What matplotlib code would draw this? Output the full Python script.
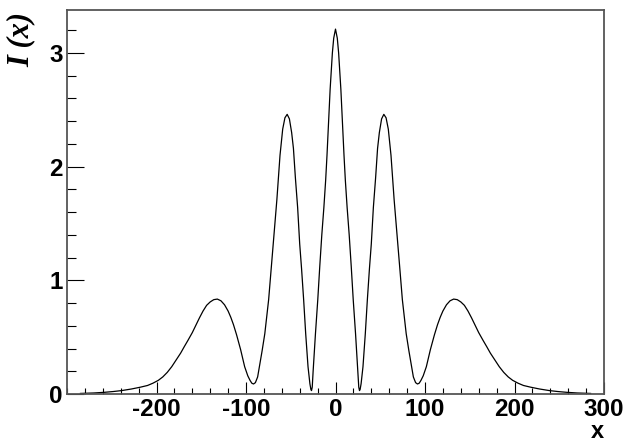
import matplotlib
matplotlib.use("Agg")
import matplotlib.pyplot as plt
from matplotlib.ticker import MultipleLocator, FixedLocator

# values (x, I(x))
x_vals = [-285, -270, -258, -248, -239, -228, -218, -210, -204, -198,
          -193, -188, -183, -178, -173, -169, -165, -160, -156, -152,
          -148, -144, -140, -136, -132, -128, -124, -120, -117, -114,
          -110.5, -106, -101.5, -98, -95.5, -93.5, -91.6, -89.5, -87, -85,
          -82, -79, -74.7, -71.7, -68.7, -65.5, -62, -59, -56.5, -54,
          -51.5, -49, -47, -44.8, -42.3, -40, -37.9, -35.6, -33.3, -30.7,
          -28.6, -27.5, -26.8, -26, -25, -22.4, -19.8, -17.6, -15.3, -13,
          -11, -9.5, -8, -6, -3.5, -2, 0,
          2, 3.5, 6, 8, 9.5, 11, 13, 15.3, 17.6, 19.8,
          22.4, 25, 26, 26.8, 27.5, 28.6, 30.7, 33.3, 35.6, 37.9,
          40, 42.3, 44.8, 47, 49, 51.5, 54, 56.5, 59, 62,
          65.5, 68.7, 71.7, 74.7, 79, 82, 85, 87, 89.5, 91.6,
          93.5, 95.5, 98, 101.5, 106, 110.5, 114, 117, 120, 124,
          128, 132, 136, 140, 144, 148, 152, 156, 160, 165,
          169, 173, 178, 183, 188, 193, 198, 204, 210, 218,
          228, 239, 248, 258, 270, 285]
i_vals = [0.005, 0.009, 0.015, 0.022, 0.030, 0.044, 0.060, 0.075, 0.095, 0.12,
          0.15, 0.19, 0.24, 0.30, 0.36, 0.416, 0.47, 0.54, 0.605, 0.67,
          0.73, 0.78, 0.81, 0.83, 0.835, 0.82, 0.785, 0.73, 0.675, 0.61,
          0.52, 0.39, 0.24, 0.16, 0.12, 0.095, 0.088, 0.10, 0.15, 0.24,
          0.38, 0.53, 0.83, 1.12, 1.41, 1.71, 2.10, 2.33, 2.43, 2.46,
          2.42, 2.30, 2.16, 1.90, 1.64, 1.32, 1.10, 0.83, 0.53, 0.24,
          0.09, 0.04, 0.03, 0.06, 0.20, 0.53, 0.83, 1.12, 1.40, 1.64,
          1.88, 2.10, 2.35, 2.68, 3.0, 3.13, 3.21,
          3.13, 3.0, 2.68, 2.35, 2.10, 1.88, 1.64, 1.40, 1.12, 0.83,
          0.53, 0.20, 0.06, 0.03, 0.04, 0.09, 0.24, 0.53, 0.83, 1.10,
          1.32, 1.64, 1.90, 2.16, 2.30, 2.42, 2.46, 2.43, 2.33, 2.10,
          1.71, 1.41, 1.12, 0.83, 0.53, 0.38, 0.24, 0.15, 0.10, 0.088,
          0.095, 0.12, 0.16, 0.24, 0.39, 0.52, 0.61, 0.675, 0.73, 0.785,
          0.82, 0.835, 0.83, 0.81, 0.78, 0.73, 0.67, 0.605, 0.54, 0.47,
          0.416, 0.36, 0.30, 0.24, 0.19, 0.15, 0.12, 0.095, 0.075, 0.060,
          0.044, 0.030, 0.022, 0.015, 0.009, 0.005]

x_ticks = [-200, -100, 0, 100, 200, 300]
x_tick_labels = ["-200", "-100", "0", "100", "200", "300"]
y_ticks = [0, 1, 2, 3]

fig = plt.figure(figsize=(6.4, 4.42), dpi=100)
ax = fig.add_axes([67 / 640, 48 / 442, 537 / 640, 384 / 442])

ax.plot(x_vals, i_vals, color="black", lw=0.9)

ax.set_xlim(-300, 300)
ax.set_ylim(0, 3.378)

ax.xaxis.set_major_locator(FixedLocator(x_ticks))
ax.set_xticklabels(x_tick_labels)
ax.xaxis.set_minor_locator(MultipleLocator(20))
ax.yaxis.set_major_locator(FixedLocator(y_ticks))
ax.yaxis.set_minor_locator(MultipleLocator(0.2))

for t in ax.get_xticklabels() + ax.get_yticklabels():
    t.set_fontfamily("Liberation Sans")
    t.set_fontweight("bold")
    t.set_fontsize(17.5)

ax.tick_params(axis="x", which="major", direction="in", length=8.5, width=0.8, pad=3)
ax.tick_params(axis="x", which="minor", direction="in", length=4.3, width=0.8)
ax.tick_params(axis="y", which="major", direction="in", length=12, width=0.8, pad=3)
ax.tick_params(axis="y", which="minor", direction="in", length=6.5, width=0.8)

for s in ax.spines.values():
    s.set_color("#555555")
    s.set_linewidth(1.3)

ax.text(-0.086, 0.995, "I (x)", rotation=90, ha="center", va="top",
        transform=ax.transAxes, family="Liberation Serif", style="italic",
        weight="bold", size=22)
ax.text(1.0, -0.097, "x", ha="right", va="center", transform=ax.transAxes,
        family="Liberation Sans", weight="bold", size=17)

fig.savefig("out.png", dpi=100)
